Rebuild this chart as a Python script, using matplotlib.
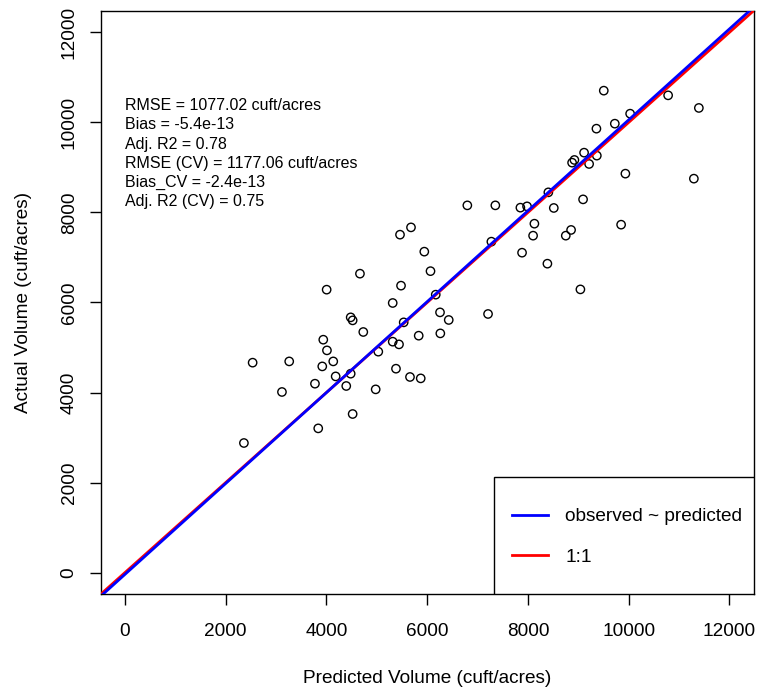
import numpy as np
import matplotlib
matplotlib.use("Agg")
import matplotlib.pyplot as plt
from matplotlib.patches import Rectangle

plt.rcParams['font.family'] = ['Liberation Sans', 'DejaVu Sans']

# predicted vs actual stand volume (cuft/acres)
predicted = [4666, 6066, 4005, 5481, 5316, 6170, 4482, 4521, 6255, 6428,
             5534, 4732, 6261, 5832, 3938, 5316, 5441, 4011, 5030, 2536,
             3262, 4136, 3918, 5381, 4184, 4482, 5659, 5872, 3773, 4394,
             4978, 3118, 4521, 3838, 2363, 6797, 7353, 7850, 7982, 8405,
             9094, 8513, 8128, 8102, 8856, 8751, 9849, 7274, 7883, 8386,
             9041, 7208, 9505, 10782, 11392, 10028, 9724, 9359, 9114, 9367,
             8922, 8876, 9214, 9934, 11293, 5461, 5679, 5943]
actual = [6640, 6696, 6285, 6374, 5989, 6174, 5670, 5603, 5781, 5612,
          5559, 5345, 5314, 5263, 5174, 5130, 5070, 4937, 4908, 4664,
          4692, 4692, 4581, 4530, 4359, 4419, 4346, 4315, 4197, 4146,
          4071, 4013, 3524, 3205, 2880, 8157, 8157, 8106, 8135, 8446,
          8290, 8099, 7750, 7484, 7611, 7484, 7728, 7351, 7106, 6862,
          6291, 5745, 10704, 10600, 10320, 10193, 9971, 9860, 9327, 9261,
          9165, 9105, 9076, 8861, 8750, 7506, 7668, 7129]

# observed ~ predicted line coefficients
fit_intercept = -39.0
fit_slope = 1.0095

stats_lines = ["RMSE = 1077.02 cuft/acres",
               "Bias = -5.4e-13",
               "Adj. R2 = 0.78",
               "RMSE (CV) = 1177.06 cuft/acres",
               "Bias_CV = -2.4e-13",
               "Adj. R2 (CV) = 0.75"]

ticks = [0, 2000, 4000, 6000, 8000, 10000, 12000]
lims = (-480, 12480)

x = np.array(predicted)
y = np.array(actual)

fig = plt.figure(figsize=(7.58, 6.93), dpi=100)
ax = fig.add_axes([0.1328, 0.1424, 0.8615, 0.8422])

ax.scatter(x, y, s=36, facecolors='none', edgecolors='black', linewidths=1.0, zorder=2)

xx = np.array(lims)
ax.plot(xx, xx, color='red', lw=2, label='1:1', zorder=3)
ax.plot(xx, fit_intercept + fit_slope * xx, color='blue', lw=2,
        label='observed ~ predicted', zorder=4)

ax.set_xlim(lims)
ax.set_ylim(lims)
ax.set_xticks(ticks)
ax.set_yticks(ticks)
ax.tick_params(length=8, width=1, labelsize=13.7, colors='black')
ax.tick_params(axis='x', pad=12.5)
ax.tick_params(axis='y', pad=8.5)
for lab in ax.get_yticklabels():
    lab.set_rotation(90)
    lab.set_va('center')
for sp in ax.spines.values():
    sp.set_linewidth(1)

ax.set_xlabel('Predicted Volume (cuft/acres)', fontsize=13.7)
ax.set_ylabel('Actual Volume (cuft/acres)', fontsize=13.7)
ax.xaxis.set_label_coords(0.5, -0.1297)
ax.yaxis.set_label_coords(-0.105, 0.5)

ax.text(0, 9305, "\n".join(stats_lines), fontsize=11.5, ha='left', va='center',
        linespacing=1.34)

# legend box in the lower right corner
ax.add_patch(Rectangle((0.602, 0), 0.398, 0.201, transform=ax.transAxes,
                       facecolor='white', edgecolor='black', lw=1, zorder=5))
h, l = ax.get_legend_handles_labels()
leg = ax.legend(h[::-1], l[::-1], loc='center left', bbox_to_anchor=(0.602, 0.0982),
                borderaxespad=0, fontsize=13.7, frameon=False,
                handlelength=1.9, handletextpad=0.9, borderpad=0.95,
                labelspacing=1.21)
leg.set_zorder(6)

fig.savefig('out.png', dpi=100)
